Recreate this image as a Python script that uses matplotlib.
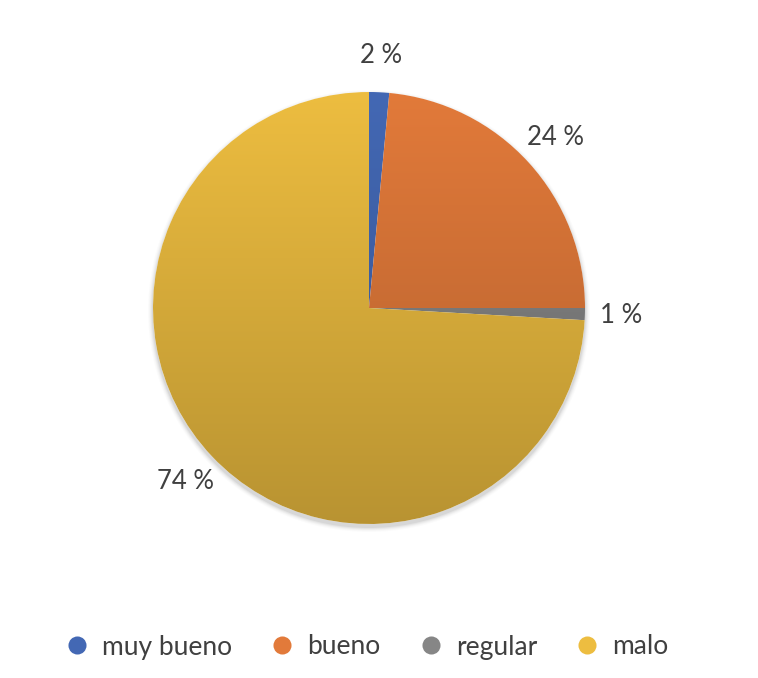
import numpy as np
import matplotlib
matplotlib.use("Agg")
import matplotlib.pyplot as plt
from matplotlib.colors import LinearSegmentedColormap, to_rgb
from matplotlib.lines import Line2D
from matplotlib.patches import Circle

plt.rcParams['font.family'] = ['Lato', 'DejaVu Sans']

categories = ["muy bueno", "bueno", "regular", "malo"]
values = [1.5, 23.5, 0.9, 74.1]
pct_labels = ["2 %", "24 %", "1 %", "74 %"]
colors = ["#4368B4", "#E27A3A", "#868686", "#EDBD40"]

W, H = 758, 678
fig = plt.figure(figsize=(W / 100, H / 100), dpi=100)
ax = fig.add_axes([0, 0, 1, 1])
ax.set_xlim(0, W)
ax.set_ylim(0, H)
ax.set_aspect('equal')
ax.axis('off')

cx, cy, r = 369, H - 308, 216

# soft shadow
for i, a in enumerate([0.05, 0.04, 0.03, 0.02, 0.015]):
    ax.add_patch(Circle((cx, cy - 3), r + 1 + i, facecolor='black', alpha=a,
                        edgecolor='none', zorder=0))
ax.add_patch(Circle((cx, cy), r, facecolor='white', edgecolor='none', zorder=0.5))

wedges, texts = ax.pie(values, labels=pct_labels, colors=colors, startangle=90,
                       counterclock=False, center=(cx, cy), radius=r,
                       labeldistance=1.17, frame=True,
                       wedgeprops=dict(linewidth=0),
                       textprops=dict(fontsize=18.5, color='#404040'))
ax.set_xlim(0, W)
ax.set_ylim(0, H)
ax.axis('off')

grad = np.linspace(0, 1, 256).reshape(-1, 1)
for w, c in zip(wedges, colors):
    top = np.array(to_rgb(c))
    bot = top * 0.78
    cmap = LinearSegmentedColormap.from_list('g', [top, bot])
    w.set_facecolor('none')
    im = ax.imshow(grad, cmap=cmap, extent=(cx - r, cx + r, cy - r, cy + r),
                   origin='upper', aspect='auto', zorder=1, interpolation='bilinear')
    im.set_clip_path(w)

for t in texts:
    t.set_horizontalalignment('center')
    t.set_verticalalignment('center')

handles = [Line2D([], [], marker='o', linestyle='none', markersize=13,
                  markerfacecolor=c, markeredgecolor='none') for c in colors]
ax.legend(handles, categories, loc='center', bbox_to_anchor=(0.483, 1 - 647 / H),
          ncol=4, frameon=False, fontsize=19, labelcolor='#404040',
          handletextpad=0.45, columnspacing=1.4, handlelength=1.0)

fig.savefig("out.png", dpi=100)
